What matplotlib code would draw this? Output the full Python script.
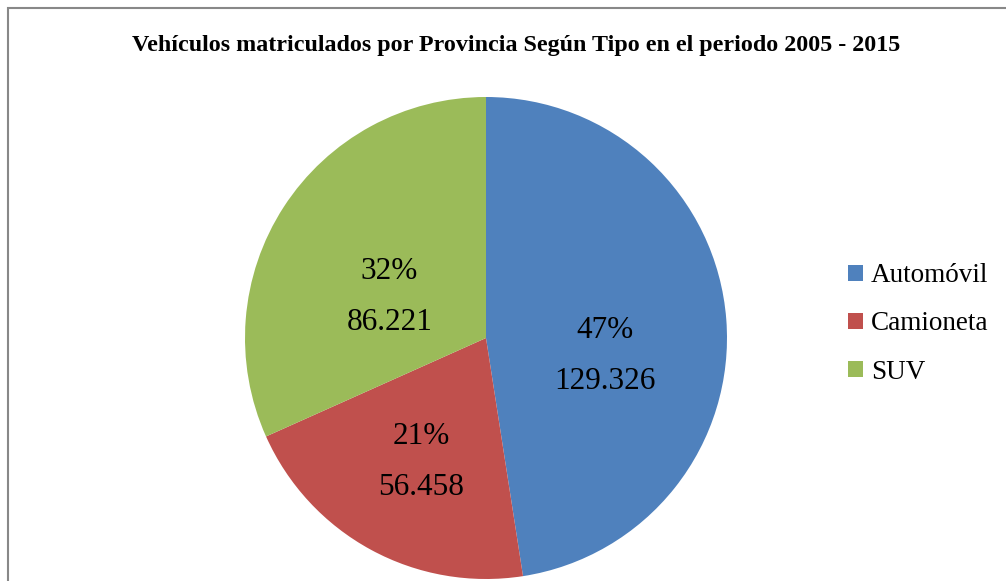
import numpy as np
import matplotlib.pyplot as plt
from matplotlib.patches import Rectangle

# datos del grafico
tipos = ['Automóvil', 'Camioneta', 'SUV']
vehiculos = [129326, 56458, 86221]
porcentajes = ['47%', '21%', '32%']
colores = ['#4F81BD', '#C0504D', '#9BBB59']

fig = plt.figure(figsize=(10.06, 5.81), dpi=100)

# borde gris del area del grafico
fig.patches.append(Rectangle((8 / 1006, -0.1), 1.1, 1.1 - 8 / 581,
                             transform=fig.transFigure, fill=False,
                             edgecolor='#888888', linewidth=1.5))

ax = fig.add_axes([245 / 1006, 2 / 581, 482 / 1006, 482 / 581])

wedges, _ = ax.pie(vehiculos, colors=colores, startangle=90, counterclock=False)
ax.set_xlim(-1, 1)
ax.set_ylim(-1, 1)
ax.set_aspect('equal')

# etiquetas dentro de cada porcion (distancia y giro respecto al angulo medio)
etiquetas = [p + '\n' + f'{v:,}'.replace(',', '.') for p, v in zip(porcentajes, vehiculos)]
distancias = [0.50, 0.58, 0.435]
giros = [-13, 1, 10]
for w, txt, d, g in zip(wedges, etiquetas, distancias, giros):
    ang = np.deg2rad((w.theta1 + w.theta2) / 2 + g)
    ax.text(d * np.cos(ang), d * np.sin(ang), txt, ha='center', va='center',
            fontsize=22.5, family='Liberation Serif', linespacing=2.0)

fig.suptitle('Vehículos matriculados por Provincia Según Tipo en el periodo 2005 - 2015',
             x=516 / 1006, y=1 - 45 / 581, va='center', fontsize=17.3,
             fontweight='bold', family='Liberation Serif')

fig.legend(wedges, tipos, loc='center left', bbox_to_anchor=(848 / 1006, 1 - 324 / 581),
           frameon=False, borderpad=0, borderaxespad=0,
           prop={'family': 'Liberation Serif', 'size': 19.5},
           handlelength=0.55, handleheight=0.55, handletextpad=0.3, labelspacing=0.85)

fig.savefig('out.png', dpi=100)
